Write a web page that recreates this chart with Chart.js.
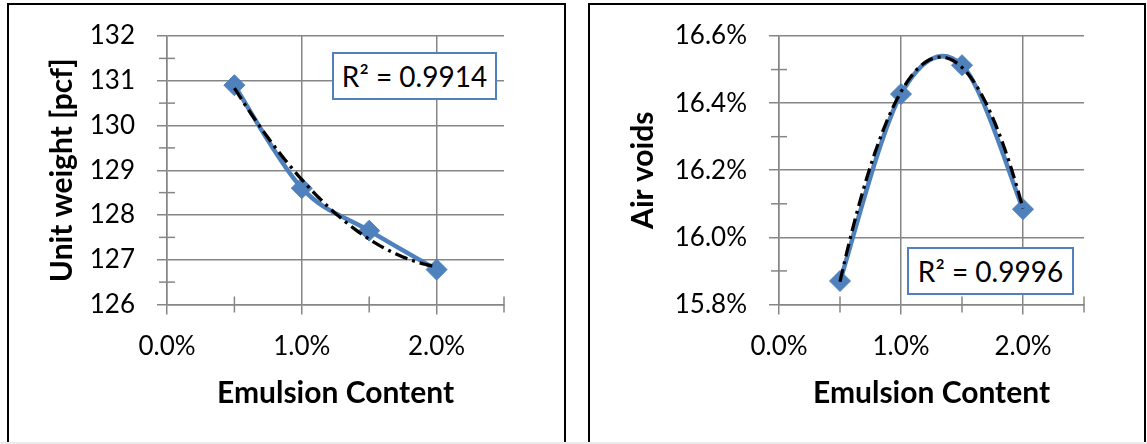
<!DOCTYPE html>
<html><head><meta charset="utf-8">
<script src="https://cdn.jsdelivr.net/npm/chart.js@4/dist/chart.umd.min.js"></script>
<style>
html,body{margin:0;padding:0;background:#fff;width:1147px;height:444px;overflow:hidden;position:relative;font-family:Lato,sans-serif;}
.panel{position:absolute;border:2px solid #000;box-sizing:border-box;}
.cv{position:absolute;}
.r2{position:absolute;border:2px solid #4F81BD;background:#fff;box-sizing:border-box;font:28px Lato;color:#000;display:flex;align-items:center;justify-content:center;white-space:nowrap;}
</style></head><body>
<div class="panel" style="left:7px;top:3px;width:559px;height:470px"></div>
<div class="panel" style="left:588px;top:3px;width:558px;height:470px"></div>
<div class="cv" style="left:9px;top:5px;width:555px;height:437px"><canvas id="c1"></canvas></div>
<div class="cv" style="left:590px;top:5px;width:554px;height:437px"><canvas id="c2"></canvas></div>
<div class="r2" id="r2a" style="left:332px;top:52px;width:165px;height:48px"></div>
<div class="r2" id="r2b" style="left:907px;top:247px;width:167px;height:48px"></div>
<div style="position:absolute;left:0;top:442px;width:1147px;height:2px;background:#ebebeb"></div>
<script>
// ---- data ----
const emulsionPct = [0.5, 1.0, 1.5, 2.0];
const unitWeight = [130.9, 128.6, 127.65, 126.78];
const airVoidsPct = [15.87, 16.427, 16.513, 16.084];
const xAxisRange = [0, 2.5];
const unitWeightRange = [126, 132];
const airVoidsRange = [15.8, 16.6];
const xTitle = 'Emulsion Content';
const yTitles = ['Unit weight [pcf]', 'Air voids'];
const r2Labels = ['R² = 0.9914', 'R² = 0.9996'];

document.getElementById('r2a').textContent = r2Labels[0];
document.getElementById('r2b').textContent = r2Labels[1];

// least-squares polynomial (order 2) trendline, as in the spreadsheet
function polyfit2(xs, ys) {
  const S = [0,0,0,0,0], T = [0,0,0];
  xs.forEach((x,i) => { for (let p=0;p<5;p++) S[p] += Math.pow(x,p); for (let p=0;p<3;p++) T[p] += ys[i]*Math.pow(x,p); });
  const M = [[S[0],S[1],S[2],T[0]],[S[1],S[2],S[3],T[1]],[S[2],S[3],S[4],T[2]]];
  for (let c=0;c<3;c++) {
    for (let r=c+1;r<3;r++) { const f = M[r][c]/M[c][c]; for (let k=c;k<4;k++) M[r][k] -= f*M[c][k]; }
  }
  const b = [0,0,0];
  for (let r=2;r>=0;r--) { let s = M[r][3]; for (let k=r+1;k<3;k++) s -= M[r][k]*b[k]; b[r] = s/M[r][r]; }
  return b;
}
function trendPoints(xs, ys) {
  const b = polyfit2(xs, ys);
  const x0 = xs[0], x1 = xs[xs.length-1], pts = [];
  for (let i=0;i<=120;i++) { const x = x0 + (x1-x0)*i/120; pts.push({x, y: b[0]+b[1]*x+b[2]*x*x}); }
  return pts;
}

const GRAY = '#868686';
const BLUE = '#4F81BD';
const TRANSP = 'rgba(0,0,0,0)';
const majorFns = {};

// spreadsheet-style smoothing: uniform Catmull-Rom control points on the line element
const smoothLine = {
  id: 'smoothLine',
  beforeDatasetDraw(chart, args) {
    const meta = args.meta;
    if (!meta.dataset || !chart.data.datasets[args.index].excelSmooth) return;
    const pts = meta.data, n = pts.length;
    for (let i=0;i<n;i++) {
      const p = pts[i], prev = pts[Math.max(i-1,0)], next = pts[Math.min(i+1,n-1)];
      const dx = (next.x - prev.x)/6, dy = (next.y - prev.y)/6;
      p.cp1x = p.x - dx; p.cp1y = p.y - dy;
      p.cp2x = p.x + dx; p.cp2y = p.y + dy;
    }
    meta.dataset._pointsUpdated = true;
    meta.dataset._path = undefined;
  }
};

const minorTicks = {
  id: 'minorTicks',
  beforeDatasetsDraw(chart) {
    const ctx = chart.ctx, ca = chart.chartArea, fns = majorFns[chart.canvas.id];
    ctx.save();
    ctx.strokeStyle = GRAY; ctx.lineWidth = 1.5;
    ['x','y'].forEach(id => {
      const sc = chart.scales[id];
      sc.ticks.forEach(t => {
        if (fns[id](t.value)) return;
        const p = sc.getPixelForValue(t.value);
        ctx.beginPath();
        if (id === 'x') { ctx.moveTo(p, ca.bottom - 8); ctx.lineTo(p, ca.bottom + 8); }
        else { ctx.moveTo(ca.left - 8, p); ctx.lineTo(ca.left + 8, p); }
        ctx.stroke();
      });
    });
    ctx.restore();
  }
};

function makeChart(id, ys, yRange, yStep, yMajor, yLabel, yTitle, yWidth) {
  const isMajorX = v => Math.round(v*2) % 2 === 0;
  majorFns[id] = { x: isMajorX, y: yMajor };
  return new Chart(document.getElementById(id), {
    type: 'line',
    data: {
      datasets: [
        { data: trendPoints(emulsionPct, ys), borderColor: '#000', borderWidth: 3.3,
          borderDash: [13,5,3,5], pointRadius: 0, tension: 0, order: 0, fill: false },
        { data: emulsionPct.map((x,i) => ({x, y: ys[i]})), borderColor: BLUE, backgroundColor: BLUE,
          borderWidth: 4.5, pointStyle: 'rectRot', pointRadius: 10.5, pointBorderWidth: 1,
          pointBackgroundColor: BLUE, pointBorderColor: BLUE, tension: 0.35, order: 1, fill: false,
          excelSmooth: true }
      ]
    },
    options: {
      responsive: true, maintainAspectRatio: false, animation: false,
      layout: { padding: { left: 8, top: 31, right: 60, bottom: 20 } },
      plugins: { legend: { display: false }, tooltip: { enabled: false } },
      scales: {
        x: {
          type: 'linear', min: xAxisRange[0], max: xAxisRange[1],
          afterFit(s) { s.height = 117.5; s.paddingLeft = 0; s.paddingRight = 0; },
          ticks: { stepSize: 0.5, autoSkip: false, maxRotation: 0, color: '#000', padding: 17,
                   font: { family: 'Lato', size: 26 },
                   callback: v => isMajorX(v) ? v.toFixed(1) + '%' : '' },
          grid: { color: c => isMajorX(c.tick.value) ? GRAY : TRANSP, tickColor: c => isMajorX(c.tick.value) ? GRAY : TRANSP,
                  lineWidth: 1.5, tickLength: 10 },
          border: { color: GRAY, width: 1.5 },
          title: { display: true, text: xTitle, color: '#000', font: { family: 'Lato', size: 30, weight: 'bold' },
                   padding: { top: 0, bottom: 11 } }
        },
        y: {
          type: 'linear', min: yRange[0], max: yRange[1],
          afterFit(s) { s.width = yWidth; s.paddingTop = 0; s.paddingBottom = 0; },
          ticks: { stepSize: yStep, autoSkip: false, color: '#000', padding: 22,
                   font: { family: 'Lato', size: 26 },
                   callback: v => yMajor(v) ? yLabel(v) : '' },
          grid: { color: c => yMajor(c.tick.value) ? GRAY : TRANSP, tickColor: c => yMajor(c.tick.value) ? GRAY : TRANSP,
                  lineWidth: 1.5, tickLength: 10 },
          border: { color: GRAY, width: 1.5 },
          title: { display: true, text: yTitle, color: '#000', font: { family: 'Lato', size: 30, weight: 'bold' },
                   padding: { top: 27, bottom: 0 } }
        }
      }
    },
    plugins: [minorTicks, smoothLine]
  });
}

makeChart('c1', unitWeight, unitWeightRange, 0.5,
  v => Math.round(v*2) % 2 === 0, v => String(Math.round(v)), yTitles[0], 150);
makeChart('c2', airVoidsPct, airVoidsRange, 0.1,
  v => Math.round(v*10) % 2 === 0, v => v.toFixed(1) + '%', yTitles[1], 181);
</script>
</body></html>
